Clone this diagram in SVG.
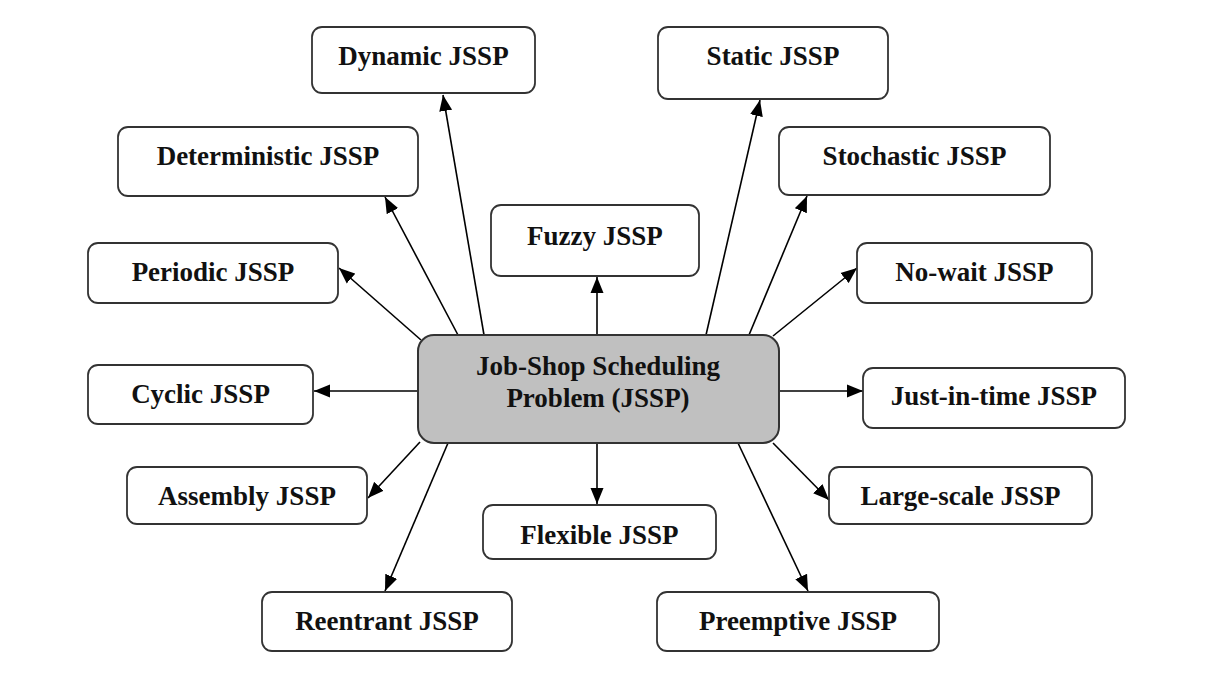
<svg xmlns="http://www.w3.org/2000/svg" width="1208" height="674" viewBox="0 0 1208 674">
<defs>
<marker id="arr" markerUnits="userSpaceOnUse" markerWidth="17" markerHeight="14" refX="16" refY="7" orient="auto">
<path d="M0,0.5 L16,7 L0,13.5 z" fill="#000"/>
</marker>
<style>
.box{fill:#fff;stroke:#333;stroke-width:1.8}
.main{fill:#c0c0c0;stroke:#333;stroke-width:2}
.t{font-family:"Liberation Serif","Times New Roman",serif;font-weight:bold;font-size:27px;fill:#111;text-anchor:middle}
.c{stroke:#000;stroke-width:1.6;fill:none;marker-end:url(#arr)}
</style>
</defs>
<rect width="1208" height="674" fill="#fff"/>
<g id="connectors">
<path class="c" d="M484,335 L443,95"/>
<path class="c" d="M458,335 L385,197"/>
<path class="c" d="M421,340 L339,268"/>
<path class="c" d="M418,391 L314,391"/>
<path class="c" d="M597,335 L597,277"/>
<path class="c" d="M706,335 L760,100"/>
<path class="c" d="M749,335 L807,196"/>
<path class="c" d="M773,336 L857,268"/>
<path class="c" d="M779,391 L863,391"/>
<path class="c" d="M773,443 L829,500"/>
<path class="c" d="M420,442 L368,498"/>
<path class="c" d="M597,443 L597,504"/>
<path class="c" d="M448,443 L385,591"/>
<path class="c" d="M738,443 L808,591"/>
</g>
<g id="center">
<rect class="main" x="418" y="335" width="361" height="108" rx="16"/>
<text class="t" x="598" y="375">Job-Shop Scheduling</text>
<text class="t" x="598" y="407">Problem (JSSP)</text>
</g>
<g id="dynamic"><rect class="box" x="312" y="27" width="223" height="66" rx="10"/><text class="t" x="423.5" y="65">Dynamic JSSP</text></g>
<g id="static"><rect class="box" x="658" y="27" width="230" height="72" rx="10"/><text class="t" x="773" y="65">Static JSSP</text></g>
<g id="deterministic"><rect class="box" x="118" y="127" width="300" height="69" rx="10"/><text class="t" x="268" y="165">Deterministic JSSP</text></g>
<g id="stochastic"><rect class="box" x="779" y="127" width="271" height="68" rx="10"/><text class="t" x="914.5" y="165">Stochastic JSSP</text></g>
<g id="fuzzy"><rect class="box" x="491" y="205" width="208" height="71" rx="10"/><text class="t" x="595" y="245">Fuzzy JSSP</text></g>
<g id="periodic"><rect class="box" x="88" y="243" width="250" height="60" rx="10"/><text class="t" x="213" y="281">Periodic JSSP</text></g>
<g id="nowait"><rect class="box" x="857" y="243" width="235" height="60" rx="10"/><text class="t" x="974.5" y="281">No-wait JSSP</text></g>
<g id="cyclic"><rect class="box" x="88" y="365" width="225" height="59" rx="10"/><text class="t" x="200.5" y="403">Cyclic JSSP</text></g>
<g id="justintime"><rect class="box" x="863" y="368" width="262" height="60" rx="10"/><text class="t" x="994" y="405">Just-in-time JSSP</text></g>
<g id="assembly"><rect class="box" x="127" y="467" width="240" height="57" rx="10"/><text class="t" x="247" y="505">Assembly JSSP</text></g>
<g id="largescale"><rect class="box" x="829" y="467" width="263" height="57" rx="10"/><text class="t" x="960.5" y="505">Large-scale JSSP</text></g>
<g id="flexible"><rect class="box" x="483" y="505" width="233" height="54" rx="10"/><text class="t" x="599.5" y="544">Flexible JSSP</text></g>
<g id="reentrant"><rect class="box" x="262" y="592" width="250" height="59" rx="10"/><text class="t" x="387" y="630">Reentrant JSSP</text></g>
<g id="preemptive"><rect class="box" x="657" y="592" width="282" height="59" rx="10"/><text class="t" x="798" y="630">Preemptive JSSP</text></g>
</svg>
